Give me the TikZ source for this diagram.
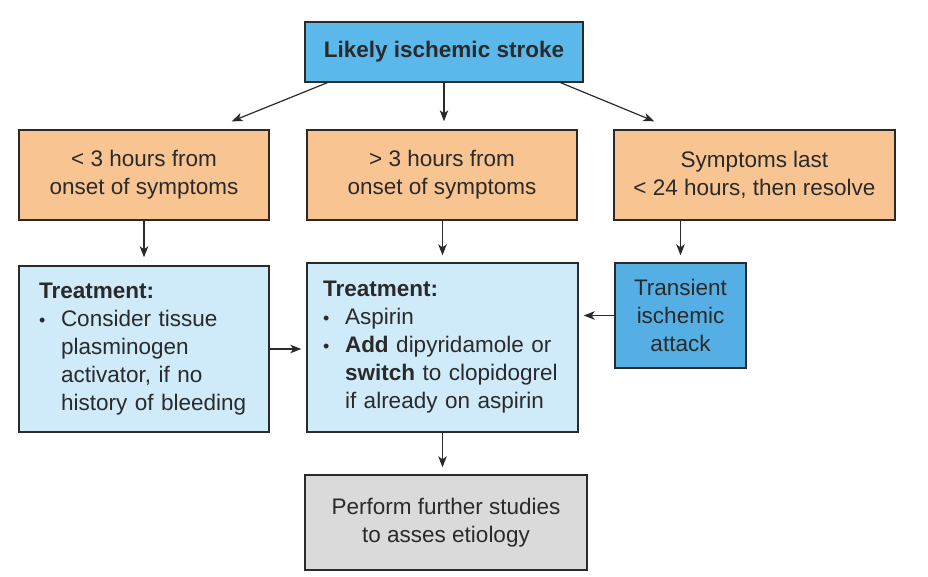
\documentclass[tikz,border=0pt]{standalone}
\usepackage{fontspec}
\setmainfont{Liberation Sans}
\usetikzlibrary{arrows.meta,positioning}
\usepackage{xcolor}
\definecolor{ink}{HTML}{2A2A2A}
\definecolor{alert}{HTML}{5BB8EA}
\definecolor{onset}{HTML}{F8C592}
\definecolor{therapy}{HTML}{CFEAF9}
\definecolor{tia}{HTML}{55AEE4}
\definecolor{study}{HTML}{DADADA}
\newcommand{\bul}{\makebox[22pt][l]{\fontsize{18pt}{18pt}\selectfont\textbullet}}
\newcommand{\ind}{\hspace*{22pt}}
\tikzset{
  >={Stealth[length=11pt,width=8.5pt,inset=3pt]},
  every node/.style={font=\fontsize{22.5pt}{28pt}\selectfont,text=ink},
  box/.style={draw=ink,line width=1.4pt,fill=onset,align=center,inner sep=0pt},
  alertbox/.style={box,fill=alert},
  onsetbox/.style={box,fill=onset},
  therapybox/.style={box,fill=therapy,align=left},
  tiabox/.style={box,fill=tia},
  studybox/.style={box,fill=study},
  arrow/.style={->,line width=1.2pt,draw=ink},
}
\begin{document}
\begin{tikzpicture}[x=1pt,y=-1pt]
\useasboundingbox[fill=white] (0,0) rectangle (928,576);

\node[alertbox,minimum width=278pt,minimum height=60pt] (stroke) at (444,52) {\textbf{Likely ischemic stroke}};

\node[onsetbox,minimum width=250pt,minimum height=90pt] (early) at (144,175) {< 3 hours from\\onset of symptoms};
\node[onsetbox,minimum width=270pt,minimum height=90pt] (late) at (442,175) {> 3 hours from\\onset of symptoms};
\node[onsetbox,minimum width=281pt,minimum height=90pt] (transient) at (754.5,175) {Symptoms last\\< 24 hours, then resolve};

\node[therapybox,minimum width=250pt,minimum height=166pt,text width=210pt] (tpa) at (144,349) {\textbf{Treatment:}\\
\bul Consider tissue\\
\ind plasminogen\\
\ind activator, if no\\
\ind history of bleeding};
\node[therapybox,minimum width=271pt,minimum height=169pt,text width=239pt] (aspirin) at (442.5,347.5) {\textbf{Treatment:}\\
\bul Aspirin\\
\bul\textbf{Add} dipyridamole or\\
\ind\textbf{switch} to clopidogrel\\
\ind if already on aspirin};
\node[tiabox,minimum width=131pt,minimum height=105pt] (tia) at (680.5,315.5) {Transient\\ischemic\\attack};

\node[studybox,minimum width=282pt,minimum height=95pt] (studies) at (446,522.5) {Perform further studies\\to asses etiology};

\draw[arrow] ([xshift=23pt]stroke.south west) -- ([xshift=-38pt,yshift=8pt]early.north east);
\draw[arrow] (stroke.south) -- ([yshift=8pt]late.north -| stroke.south);
\draw[arrow] ([xshift=-23pt]stroke.south east) -- ([xshift=41pt,yshift=8pt]transient.north west);

\draw[arrow] (early.south) -- ([yshift=8pt]tpa.north);
\draw[arrow] (late.south -| aspirin.north) -- ([yshift=7pt]aspirin.north);
\draw[arrow] (tia.north |- transient.south) -- ([yshift=7pt]tia.north);

\draw[arrow] (tpa.east) -- ([xshift=-5pt]aspirin.west |- tpa.east);
\draw[arrow] (tia.west) -- ([xshift=5pt]aspirin.east |- tia.west);
\draw[arrow] (aspirin.south) -- ([yshift=7pt]studies.north -| aspirin.south);

\end{tikzpicture}
\end{document}
